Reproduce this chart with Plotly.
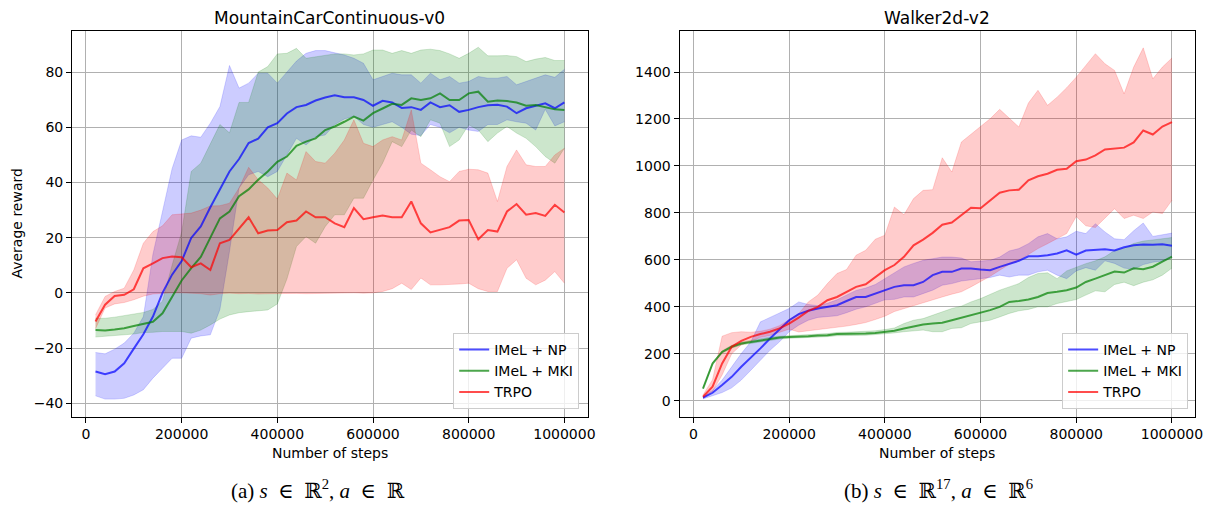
import plotly.graph_objects as go

steps = list(range(20000, 1000001, 20000))

# MountainCarContinuous-v0
mc_np_mean = [-28.5, -29.5, -28.5, -25.5, -20.2, -15.0, -8.6, 0.0, 6.6, 11.5,
              19.9, 24.1, 31.0, 37.5, 44.0, 48.5, 54.3, 55.9, 60.0, 61.5,
              65.0, 67.3, 68.1, 69.7, 70.8, 71.6, 70.9, 70.9, 69.9, 67.8,
              69.6, 69.0, 67.0, 67.3, 66.3, 69.0, 67.3, 68.0, 65.6, 66.3,
              67.3, 68.0, 68.2, 67.5, 65.1, 66.9, 67.8, 68.7, 66.9, 69.0]
mc_np_upper = [-21.6, -22.1, -20.4, -18.2, -14.6, -8.6, 14.0, 30.0, 45.0, 55.4,
               56.9, 56.4, 61.5, 67.5, 82.4, 74.2, 76.0, 79.6, 79.6, 76.0,
               80.0, 84.0, 86.8, 87.8, 87.8, 87.0, 86.2, 85.0, 83.2, 77.2,
               78.4, 79.6, 79.0, 79.0, 76.0, 79.6, 77.2, 78.4, 76.0, 76.6,
               78.4, 77.8, 77.8, 78.4, 75.4, 76.6, 77.8, 79.0, 78.1, 81.0]
mc_np_lower = [-37.3, -38.5, -38.5, -38.2, -37.0, -35.1, -30.9, -27.3, -23.7, -23.7,
               -16.4, -15.6, -15.2, -6.0, 15.0, 38.0, 42.8, 44.0, 42.1, 44.0,
               50.0, 56.0, 53.6, 56.6, 57.2, 61.0, 63.0, 64.0, 61.0, 60.0,
               61.0, 62.0, 60.0, 57.5, 57.0, 61.0, 60.0, 58.0, 60.0, 59.0,
               58.5, 61.0, 61.0, 62.7, 62.0, 61.5, 59.0, 66.5, 60.5, 62.0]

mc_mki_mean = [-13.5, -13.6, -13.3, -12.8, -12.0, -11.2, -10.5, -7.4, -1.5, 4.5,
               9.0, 13.0, 20.0, 27.0, 29.5, 35.0, 37.5, 41.0, 44.0, 47.5,
               49.4, 53.3, 54.8, 56.0, 59.0, 60.3, 62.0, 63.9, 62.4, 65.1,
               66.8, 68.5, 68.1, 70.5, 69.9, 70.5, 72.3, 69.9, 69.9, 72.3,
               72.9, 69.3, 69.7, 69.5, 69.0, 67.8, 68.1, 67.3, 66.5, 66.3]
mc_mki_upper = [-9.2, -9.2, -8.8, -8.3, -7.6, -7.1, -6.0, -3.0, 10.0, 22.0,
                44.0, 47.0, 54.0, 61.0, 58.0, 69.0, 69.0, 80.0, 82.0, 86.6,
                86.8, 88.6, 85.0, 85.6, 86.2, 86.6, 86.6, 86.2, 86.6, 88.0,
                88.0, 86.8, 87.8, 86.8, 88.0, 88.3, 87.8, 86.6, 85.0, 86.8,
                89.0, 85.9, 85.9, 86.0, 85.6, 83.8, 84.7, 85.3, 84.2, 84.2]
mc_mki_lower = [-16.0, -15.8, -15.6, -15.2, -14.9, -14.4, -14.3, -14.0, -14.0, -14.0,
                -14.6, -13.5, -11.6, -9.5, -8.0, -7.2, -6.8, -6.5, -6.2, -4.0,
                5.0, 16.8, 20.4, 18.0, 24.0, 28.3, 28.3, 34.3, 34.3, 40.9,
                47.0, 54.8, 53.0, 59.0, 56.6, 62.7, 61.5, 53.0, 55.4, 60.9,
                59.0, 54.8, 57.9, 60.3, 57.9, 56.0, 53.0, 49.4, 47.0, 52.4]

mc_trpo_mean = [-10.4, -4.3, -1.1, -0.7, 1.3, 8.9, 10.7, 12.6, 13.2, 12.9,
                9.3, 10.7, 8.3, 18.0, 19.2, 23.4, 27.4, 21.6, 22.6, 22.8,
                25.6, 26.2, 29.5, 27.4, 27.4, 25.2, 23.8, 30.7, 26.7, 27.4,
                28.0, 27.4, 27.4, 33.1, 25.2, 21.9, 22.8, 23.8, 26.2, 26.4,
                19.4, 22.8, 22.2, 29.5, 32.2, 28.3, 28.9, 27.9, 31.9, 29.1]
mc_trpo_upper = [-8.0, -1.3, 0.5, 1.7, 8.3, 18.0, 22.2, 24.3, 28.3, 28.5,
                 28.9, 30.0, 31.5, 31.6, 32.5, 38.0, 45.5, 41.0, 38.0, 34.0,
                 43.4, 40.9, 51.2, 47.6, 47.0, 50.6, 55.4, 62.7, 54.2, 53.0,
                 55.4, 56.6, 55.4, 66.3, 47.0, 44.6, 42.1, 40.3, 44.0, 44.8,
                 44.6, 43.4, 33.1, 45.8, 51.8, 46.4, 45.8, 45.8, 50.0, 52.4]
mc_trpo_lower = [-13.0, -5.5, -4.0, -3.5, -2.5, -1.2, -0.4, -0.1, 0.0, 0.0,
                 -0.2, -0.3, -0.8, -0.3, -0.1, -0.3, -0.2, -0.4, -0.3, -0.2,
                 -0.1, -0.2, -0.3, -0.2, -0.1, -0.2, -0.1, 0.0, -0.1, 0.0,
                 0.5, 1.5, 3.5, 1.2, 5.4, 2.9, 2.9, 3.0, 3.2, 3.5,
                 1.5, 0.5, 0.5, 8.9, 12.0, 5.3, 2.9, 4.6, 7.7, 3.5]

# Walker2d-v2
wk_np_mean = [13, 34, 67, 102, 145, 183, 223, 265, 305, 343,
              369, 383, 393, 400, 407, 425, 442, 442, 457, 471,
              485, 492, 492, 506, 535, 549, 549, 563, 563, 559,
              556, 570, 584, 596, 615, 615, 620, 627, 641, 622,
              640, 643, 645, 640, 654, 662, 665, 664, 667, 660]
wk_np_upper = [17, 45, 88, 145, 201, 251, 336, 355, 374, 393,
               421, 410, 405, 415, 430, 450, 470, 480, 495, 520,
               545, 570, 585, 598, 605, 612, 612, 608, 592, 595,
               598, 612, 638, 648, 669, 698, 712, 690, 698, 722,
               712, 754, 719, 690, 686, 724, 757, 700, 707, 714]
wk_np_lower = [8, 20, 35, 55, 88, 130, 173, 215, 251, 294,
               322, 343, 355, 360, 362, 375, 390, 400, 415, 430,
               432, 442, 442, 457, 471, 492, 499, 510, 516, 520,
               525, 535, 527, 535, 535, 549, 556, 535, 520, 553,
               567, 556, 596, 585, 565, 560, 580, 590, 595, 610]

wk_mki_mean = [52, 159, 208, 230, 244, 251, 258, 265, 269, 272,
               272, 275, 278, 279, 284, 284, 286, 286, 289, 292,
               298, 308, 318, 325, 329, 332, 343, 354, 364, 374,
               386, 400, 421, 425, 431, 442, 459, 464, 471, 482,
               506, 520, 535, 550, 546, 564, 560, 571, 593, 614]
wk_mki_upper = [55, 163, 213, 236, 250, 258, 265, 271, 275, 278,
                279, 281, 284, 286, 291, 292, 294, 295, 298, 303,
                310, 329, 343, 350, 364, 379, 393, 403, 421, 435,
                454, 471, 485, 499, 525, 542, 545, 520, 553, 570,
                584, 596, 613, 640, 650, 670, 680, 685, 690, 695]
wk_mki_lower = [50, 152, 203, 224, 238, 245, 251, 258, 263, 266,
                267, 269, 272, 273, 277, 277, 279, 279, 282, 284,
                289, 294, 296, 301, 294, 294, 308, 311, 329, 336,
                343, 357, 372, 383, 389, 400, 400, 414, 421, 431,
                450, 468, 464, 495, 505, 490, 505, 515, 535, 565]

wk_trpo_mean = [17, 60, 159, 230, 255, 272, 284, 294, 308, 329,
                354, 383, 400, 428, 442, 464, 485, 496, 525, 556,
                578, 613, 662, 686, 715, 750, 759, 790, 822, 820,
                854, 886, 896, 899, 939, 956, 967, 984, 988, 1020,
                1027, 1045, 1070, 1073, 1078, 1100, 1151, 1134, 1168, 1187]
wk_trpo_upper = [25, 90, 275, 290, 294, 292, 296, 305, 320, 345,
                 371, 421, 450, 499, 542, 559, 620, 641, 688, 705,
                 825, 792, 861, 896, 899, 1035, 974, 1102, 1134, 1166,
                 1201, 1241, 1205, 1166, 1268, 1322, 1258, 1293, 1333, 1378,
                 1428, 1478, 1435, 1407, 1307, 1421, 1503, 1371, 1421, 1460]
wk_trpo_lower = [10, 40, 110, 200, 238, 255, 270, 278, 290, 305,
                 293, 298, 303, 308, 311, 318, 325, 333, 346, 360,
                 380, 393, 404, 417, 431, 442, 454, 464, 485, 506,
                 530, 556, 581, 598, 624, 648, 669, 690, 712, 785,
                 745, 738, 780, 818, 776, 790, 776, 804, 797, 854]

names = ["IMeL + NP", "IMeL + MKI", "TRPO"]
line_colors = ["rgba(0,0,255,0.7)", "rgba(0,128,0,0.7)", "rgba(255,0,0,0.7)"]
fill_colors = ["rgba(0,0,255,0.2)", "rgba(0,128,0,0.2)", "rgba(255,0,0,0.2)"]

panels = [
    dict(xa="x", ya="y", legend="legend",
         series=[(mc_np_mean, mc_np_upper, mc_np_lower),
                 (mc_mki_mean, mc_mki_upper, mc_mki_lower),
                 (mc_trpo_mean, mc_trpo_upper, mc_trpo_lower)]),
    dict(xa="x2", ya="y2", legend="legend2",
         series=[(wk_np_mean, wk_np_upper, wk_np_lower),
                 (wk_mki_mean, wk_mki_upper, wk_mki_lower),
                 (wk_trpo_mean, wk_trpo_upper, wk_trpo_lower)]),
]

fig = go.Figure()
for p in panels:
    for k, (m, up, lo) in enumerate(p["series"]):
        fig.add_trace(go.Scatter(x=steps, y=up, mode="lines", xaxis=p["xa"], yaxis=p["ya"],
                                 line=dict(color=fill_colors[k], width=0.8),
                                 showlegend=False, hoverinfo="skip"))
        fig.add_trace(go.Scatter(x=steps, y=lo, mode="lines", xaxis=p["xa"], yaxis=p["ya"],
                                 line=dict(color=fill_colors[k], width=0.8),
                                 fill="tonexty", fillcolor=fill_colors[k],
                                 showlegend=False, hoverinfo="skip"))
    for k, (m, up, lo) in enumerate(p["series"]):
        fig.add_trace(go.Scatter(x=steps, y=m, mode="lines", name=names[k],
                                 xaxis=p["xa"], yaxis=p["ya"], legend=p["legend"],
                                 line=dict(color=line_colors[k], width=2)))

# The page body has an 8px default margin; map screen pixels to paper coordinates.
OFF = 8
W, H = 1220 - OFF, 514 - OFF


def px(xp):
    return (xp - OFF) / W


def py(yp):
    return 1 - (yp - OFF) / H


font = "DejaVu Sans"
axis_common = dict(showline=True, linecolor="black", linewidth=1, mirror=True,
                   ticks="outside", ticklen=5, tickwidth=1, tickcolor="black",
                   showgrid=True, gridcolor="#b0b0b0", gridwidth=1, zeroline=False,
                   tickfont=dict(family=font, size=14, color="black"))

xdom1 = [px(72.5), px(591.7)]
xdom2 = [px(684), px(1203.3)]
ydom = [py(416.5), py(30.7)]

legend_common = dict(xanchor="right", yanchor="bottom", y=py(409), traceorder="normal",
                     bgcolor="rgba(255,255,255,0.8)", bordercolor="#cccccc", borderwidth=1,
                     font=dict(family=font, size=14, color="black"))

fig.update_layout(
    width=W, height=H, autosize=False,
    margin=dict(l=0, r=0, t=0, b=0),
    paper_bgcolor="white", plot_bgcolor="white",
    font=dict(family=font, size=14, color="black"),
    xaxis=dict(domain=xdom1, range=[-29000, 1049000], tick0=0, dtick=200000,
               tickformat="d", anchor="y", **axis_common),
    yaxis=dict(domain=ydom, range=[-44.8, 95.0], tick0=0, dtick=20, anchor="x", **axis_common),
    xaxis2=dict(domain=xdom2, range=[-29000, 1049000], tick0=0, dtick=200000,
                tickformat="d", anchor="y2", **axis_common),
    yaxis2=dict(domain=ydom, range=[-67, 1576], tick0=0, dtick=200, anchor="x2", **axis_common),
    legend=dict(x=px(583), **legend_common),
    legend2=dict(x=px(1196), **legend_common),
    showlegend=True,
)

cx1 = (xdom1[0] + xdom1[1]) / 2
cx2 = (xdom2[0] + xdom2[1]) / 2
ann = [
    dict(text="MountainCarContinuous-v0", x=cx1, y=py(18), size=17),
    dict(text="Walker2d-v2", x=cx2, y=py(18), size=17),
    dict(text="Number of steps", x=cx1, y=py(453), size=14),
    dict(text="Number of steps", x=cx2, y=py(453), size=14),
]
for a in ann:
    fig.add_annotation(text=a["text"], x=a["x"], y=a["y"], xref="paper", yref="paper",
                       xanchor="center", yanchor="middle", showarrow=False,
                       font=dict(family=font, size=a["size"], color="black"))
fig.add_annotation(text="Average reward", x=px(17), y=py(223.6), xref="paper", yref="paper",
                   xanchor="center", yanchor="middle", showarrow=False, textangle=-90,
                   font=dict(family=font, size=14, color="black"))

serif = "Liberation Serif, DejaVu Serif, serif"
sp = "\u2002"
fig.add_annotation(text=f"(a) <i>s</i>{sp}∈{sp}ℝ<sup>2</sup>, <i>a</i>{sp}∈{sp}ℝ",
                   x=px(320), y=py(489),
                   xref="paper", yref="paper", xanchor="center", yanchor="middle", showarrow=False,
                   font=dict(family=serif, size=21, color="black"))
fig.add_annotation(text=f"(b) <i>s</i>{sp}∈{sp}ℝ<sup>17</sup>, <i>a</i>{sp}∈{sp}ℝ<sup>6</sup>",
                   x=px(945), y=py(489),
                   xref="paper", yref="paper", xanchor="center", yanchor="middle", showarrow=False,
                   font=dict(family=serif, size=21, color="black"))

fig.write_html("out.html")
